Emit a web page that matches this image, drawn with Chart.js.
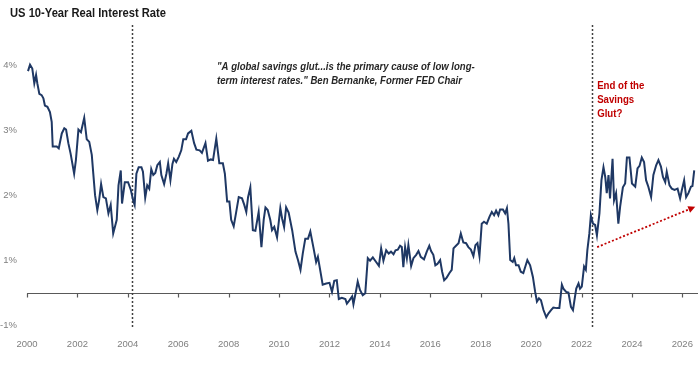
<!DOCTYPE html>
<html>
<head>
<meta charset="utf-8">
<script src="https://cdn.jsdelivr.net/npm/chart.js@4.4.1/dist/chart.umd.min.js"></script>
<style>
  html, body { margin: 0; padding: 0; background: #fff; }
  #wrap { width: 700px; height: 372px; position: relative; }
</style>
</head>
<body>
<div id="wrap"><canvas id="rateChart"></canvas></div>
<script>
// ---- data (decimal year, rate) ----
const dates = [
  2000.04, 2000.12, 2000.21, 2000.29, 2000.36, 2000.41, 2000.49, 2000.58, 2000.65, 2000.71,
  2000.81, 2000.91, 2000.98, 2001.02, 2001.18, 2001.26, 2001.38, 2001.48, 2001.55, 2001.64,
  2001.73, 2001.87, 2001.94, 2002.04, 2002.14, 2002.27, 2002.37, 2002.47, 2002.57, 2002.63,
  2002.70, 2002.79, 2002.86, 2002.94, 2003.03, 2003.13, 2003.23, 2003.32, 2003.42, 2003.56,
  2003.63, 2003.72, 2003.77, 2003.88, 2004.01, 2004.12, 2004.21, 2004.27, 2004.34, 2004.43,
  2004.54, 2004.60, 2004.69, 2004.77, 2004.85, 2004.93, 2005.01, 2005.09, 2005.17, 2005.27,
  2005.33, 2005.44, 2005.53, 2005.60, 2005.69, 2005.77, 2005.83, 2005.92, 2006.02, 2006.12,
  2006.20, 2006.31, 2006.39, 2006.52, 2006.63, 2006.72, 2006.85, 2006.94, 2007.08, 2007.18,
  2007.29, 2007.38, 2007.51, 2007.63, 2007.77, 2007.85, 2007.94, 2008.03, 2008.10, 2008.20,
  2008.29, 2008.40, 2008.53, 2008.62, 2008.70, 2008.77, 2008.86, 2008.96, 2009.06, 2009.19,
  2009.30, 2009.39, 2009.46, 2009.55, 2009.65, 2009.72, 2009.81, 2009.92, 2010.05, 2010.12,
  2010.20, 2010.28, 2010.38, 2010.52, 2010.65, 2010.75, 2010.85, 2010.94, 2011.04, 2011.15,
  2011.24, 2011.36, 2011.47, 2011.54, 2011.63, 2011.73, 2011.87, 2012.00, 2012.10, 2012.19,
  2012.29, 2012.37, 2012.49, 2012.63, 2012.69, 2012.79, 2012.90, 2012.95, 2013.06, 2013.12,
  2013.21, 2013.32, 2013.42, 2013.52, 2013.61, 2013.72, 2013.85, 2013.96, 2014.05, 2014.14,
  2014.25, 2014.35, 2014.44, 2014.54, 2014.62, 2014.71, 2014.80, 2014.87, 2014.93, 2015.00,
  2015.07, 2015.13, 2015.24, 2015.33, 2015.44, 2015.53, 2015.62, 2015.75, 2015.86, 2015.96,
  2016.03, 2016.12, 2016.20, 2016.28, 2016.39, 2016.47, 2016.55, 2016.65, 2016.76, 2016.85,
  2016.92, 2017.02, 2017.12, 2017.21, 2017.31, 2017.42, 2017.51, 2017.61, 2017.71, 2017.79,
  2017.87, 2017.95, 2018.04, 2018.13, 2018.24, 2018.35, 2018.44, 2018.53, 2018.61, 2018.70,
  2018.77, 2018.88, 2018.97, 2019.04, 2019.10, 2019.17, 2019.27, 2019.33, 2019.40, 2019.50,
  2019.59, 2019.69, 2019.85, 2019.96, 2020.07, 2020.16, 2020.23, 2020.31, 2020.39, 2020.49,
  2020.60, 2020.69, 2020.79, 2020.88, 2021.02, 2021.12, 2021.22, 2021.28, 2021.39, 2021.48,
  2021.58, 2021.66, 2021.71, 2021.79, 2021.88, 2021.94, 2022.01, 2022.10, 2022.17, 2022.23,
  2022.31, 2022.37, 2022.45, 2022.54, 2022.61, 2022.71, 2022.79, 2022.87, 2022.94, 2023.00,
  2023.07, 2023.13, 2023.23, 2023.29, 2023.37, 2023.46, 2023.53, 2023.64, 2023.73, 2023.80,
  2023.90, 2024.00, 2024.13, 2024.22, 2024.30, 2024.39, 2024.48, 2024.56, 2024.65, 2024.76,
  2024.85, 2024.96, 2025.05, 2025.15, 2025.23, 2025.32, 2025.38, 2025.49, 2025.58, 2025.69,
  2025.81, 2025.91, 2025.98, 2026.07, 2026.15, 2026.24, 2026.34, 2026.40, 2026.47
];
const rates = [
  3.91, 4.01, 3.95, 3.72, 3.85, 3.72, 3.56, 3.54, 3.49, 3.38,
  3.36, 3.28, 3.13, 2.75, 2.75, 2.72, 2.95, 3.03, 3.01, 2.80,
  2.64, 2.33, 2.54, 3.01, 2.97, 3.19, 2.86, 2.82, 2.62, 2.33,
  2.00, 1.77, 1.92, 2.17, 1.97, 1.95, 1.72, 1.85, 1.41, 1.62,
  2.15, 2.38, 1.87, 2.20, 2.20, 2.08, 1.92, 1.85, 2.33, 2.43,
  2.43, 2.36, 1.96, 2.15, 2.10, 2.40, 2.31, 2.34, 2.46, 2.51,
  2.31, 2.17, 2.33, 2.49, 2.23, 2.48, 2.56, 2.51, 2.59, 2.69,
  2.86, 2.86, 2.95, 2.99, 2.80, 2.70, 2.69, 2.65, 2.80, 2.53,
  2.55, 2.54, 2.87, 2.49, 2.49, 2.33, 1.90, 1.90, 1.62, 1.52,
  1.72, 1.97, 1.95, 1.85, 1.74, 1.97, 2.12, 1.46, 1.45, 1.74,
  1.20, 1.62, 1.81, 1.77, 1.62, 1.46, 1.51, 1.35, 1.80, 1.64,
  1.51, 1.81, 1.73, 1.46, 1.13, 1.00, 0.85, 1.10, 1.33, 1.33,
  1.44, 1.20, 0.97, 1.05, 0.85, 0.62, 0.64, 0.65, 0.51, 0.68,
  0.69, 0.40, 0.42, 0.40, 0.33, 0.38, 0.44, 0.32, 0.54, 0.67,
  0.54, 0.46, 0.49, 1.03, 0.99, 1.04, 0.97, 0.91, 1.18, 0.99,
  1.15, 1.10, 1.13, 1.09, 1.15, 1.16, 1.22, 1.20, 0.89, 1.20,
  1.03, 1.23, 0.91, 1.03, 1.08, 1.14, 1.05, 1.01, 1.13, 1.22,
  1.14, 1.08, 0.92, 0.94, 1.00, 0.82, 0.69, 0.73, 0.80, 0.85,
  1.18, 1.22, 1.26, 1.41, 1.27, 1.26, 1.20, 1.16, 1.06, 1.23,
  1.26, 1.06, 1.56, 1.59, 1.56, 1.67, 1.74, 1.69, 1.76, 1.69,
  1.78, 1.78, 1.72, 1.80, 1.56, 1.00, 0.97, 1.03, 0.92, 0.92,
  0.82, 0.80, 1.00, 0.92, 0.74, 0.51, 0.36, 0.41, 0.38, 0.23,
  0.12, 0.18, 0.23, 0.27, 0.26, 0.26, 0.62, 0.56, 0.51, 0.50,
  0.28, 0.23, 0.36, 0.56, 0.64, 0.56, 0.59, 0.90, 0.85, 1.15,
  1.41, 1.69, 1.56, 1.54, 1.38, 1.72, 2.23, 2.43, 2.28, 2.03,
  2.31, 1.95, 2.56, 1.92, 2.03, 1.56, 1.82, 2.12, 2.18, 2.58,
  2.58, 2.18, 2.13, 2.41, 2.45, 2.58, 2.51, 2.23, 2.13, 1.97,
  2.31, 2.46, 2.54, 2.44, 2.28, 2.20, 2.36, 2.15, 2.10, 2.08,
  2.10, 1.95, 2.08, 2.23, 1.97, 2.03, 2.13, 2.14, 2.38
];

// ---- axes ----
const xTickYears = [2000, 2002, 2004, 2006, 2008, 2010, 2012, 2014, 2016, 2018, 2020, 2022, 2024, 2026];
const yTickValues = [0, 1, 2, 3, 4];
const yTickLabels = ["-1%", "1%", "2%", "3%", "4%"];
const axisCrossing = 0.49;   // where the horizontal axis line sits

// ---- annotations ----
const titleText = "US 10-Year Real Interest Rate";
const markerYears = [2004.17, 2022.4];
const quoteLines = [
  "\"A global savings glut...is the primary cause of low long-",
  "term interest rates.\" Ben Bernanke, Former FED Chair"
];
const quoteAt = [2007.54, 3.98];
const redLines = ["End of the", "Savings", "Glut?"];
const redAt = [2022.62, 3.68];
const arrowFrom = [2022.62, 1.20];
const arrowTo = [2026.51, 1.82];

const FONT = '"Liberation Sans", Arial, sans-serif';
const NAVY = "#1f3864";
const RED = "#c00000";
const GREY = "#7f7f7f";

const points = dates.map((d, i) => ({ x: d, y: rates[i] }));

// text in a narrower cut, like the original's narrow face
function narrowText(ctx, text, x, y, squeeze) {
  ctx.save();
  ctx.translate(x, y);
  ctx.scale(squeeze, 1);
  ctx.fillText(text, 0, 0);
  ctx.restore();
}

// draws the axis line, dashed markers, quote, red note and arrow
const decorPlugin = {
  id: "decor",
  beforeDatasetsDraw(chart) {
    const { ctx, chartArea, scales: { x, y } } = chart;
    ctx.save();
    // horizontal axis line + tick marks
    const ay = Math.round(y.getPixelForValue(axisCrossing)) + 0.5;
    ctx.strokeStyle = "#595959";
    ctx.lineWidth = 1.2;
    ctx.beginPath();
    ctx.moveTo(chartArea.left, ay);
    ctx.lineTo(chartArea.right, ay);
    xTickYears.forEach(t => {
      const tx = Math.round(x.getPixelForValue(t)) + 0.5;
      ctx.moveTo(tx, ay);
      ctx.lineTo(tx, ay + 4);
    });
    ctx.stroke();

    // dashed vertical markers
    ctx.strokeStyle = "#404040";
    ctx.lineWidth = 1.5;
    ctx.setLineDash([2, 2]);
    markerYears.forEach(m => {
      const mx = Math.round(x.getPixelForValue(m)) + 0.5;
      ctx.beginPath();
      ctx.moveTo(mx, chartArea.top);
      ctx.lineTo(mx, chartArea.bottom + 2);
      ctx.stroke();
    });
    ctx.restore();
  },
  afterDatasetsDraw(chart) {
    const { ctx, scales: { x, y } } = chart;
    ctx.save();
    ctx.textBaseline = "middle";
    ctx.textAlign = "left";

    // title
    ctx.fillStyle = "#1a1a1a";
    ctx.font = "bold 13px " + FONT;
    narrowText(ctx, titleText, 10, 13, 0.86);

    // quote
    ctx.fillStyle = "#262626";
    ctx.font = "italic bold 11px " + FONT;
    const qx = x.getPixelForValue(quoteAt[0]);
    const qy = y.getPixelForValue(quoteAt[1]);
    quoteLines.forEach((line, i) => narrowText(ctx, line, qx, qy + i * 14, 0.87));

    // red note
    ctx.fillStyle = RED;
    ctx.font = "bold 11.5px " + FONT;
    const rx = x.getPixelForValue(redAt[0]);
    const ry = y.getPixelForValue(redAt[1]);
    redLines.forEach((line, i) => narrowText(ctx, line, rx, ry + i * 14, 0.84));

    // red dotted arrow
    const x1 = x.getPixelForValue(arrowFrom[0]), y1 = y.getPixelForValue(arrowFrom[1]);
    const x2 = x.getPixelForValue(arrowTo[0]), y2 = y.getPixelForValue(arrowTo[1]);
    const ang = Math.atan2(y2 - y1, x2 - x1);
    const head = 7;
    ctx.strokeStyle = RED;
    ctx.lineWidth = 1.8;
    ctx.setLineDash([2, 2]);
    ctx.beginPath();
    ctx.moveTo(x1, y1);
    ctx.lineTo(x2 - head * Math.cos(ang), y2 - head * Math.sin(ang));
    ctx.stroke();
    ctx.setLineDash([]);
    ctx.fillStyle = RED;
    ctx.beginPath();
    ctx.moveTo(x2, y2);
    ctx.lineTo(x2 - head * Math.cos(ang) + 3.5 * Math.sin(ang), y2 - head * Math.sin(ang) - 3.5 * Math.cos(ang));
    ctx.lineTo(x2 - head * Math.cos(ang) - 3.5 * Math.sin(ang), y2 - head * Math.sin(ang) + 3.5 * Math.cos(ang));
    ctx.closePath();
    ctx.fill();
    ctx.restore();
  }
};

new Chart(document.getElementById("rateChart"), {
  type: "line",
  data: {
    datasets: [{
      label: "US 10-Year Real Interest Rate",
      data: points,
      borderColor: NAVY,
      borderWidth: 2,
      pointRadius: 0,
      tension: 0,
      fill: false
    }]
  },
  options: {
    responsive: true,
    maintainAspectRatio: false,
    animation: false,
    layout: { padding: { top: 25, left: 0, right: 2, bottom: 0 } },
    plugins: {
      legend: { display: false },
      tooltip: { enabled: false }
    },
    scales: {
      x: {
        type: "linear",
        min: 2000,
        max: 2026.62,
        afterBuildTicks: s => { s.ticks = xTickYears.map(v => ({ value: v })); },
        afterFit: s => { s.height = 47; s.paddingLeft = 0; s.paddingRight = 0; },
        grid: { display: false, drawTicks: false },
        border: { display: false },
        ticks: {
          padding: 14,
          color: GREY,
          font: { family: FONT, size: 9.5 },
          maxRotation: 0,
          autoSkip: false,
          callback: v => String(v)
        }
      },
      y: {
        min: 0,
        max: 4.62,
        afterBuildTicks: s => { s.ticks = yTickValues.map(v => ({ value: v })); },
        afterFit: s => { s.width = 27; },
        grid: { display: false, drawTicks: false },
        border: { display: false },
        ticks: {
          padding: 10,
          color: GREY,
          font: { family: FONT, size: 9.5 },
          callback: (v, i) => yTickLabels[i]
        }
      }
    }
  },
  plugins: [decorPlugin]
});
</script>
</body>
</html>
